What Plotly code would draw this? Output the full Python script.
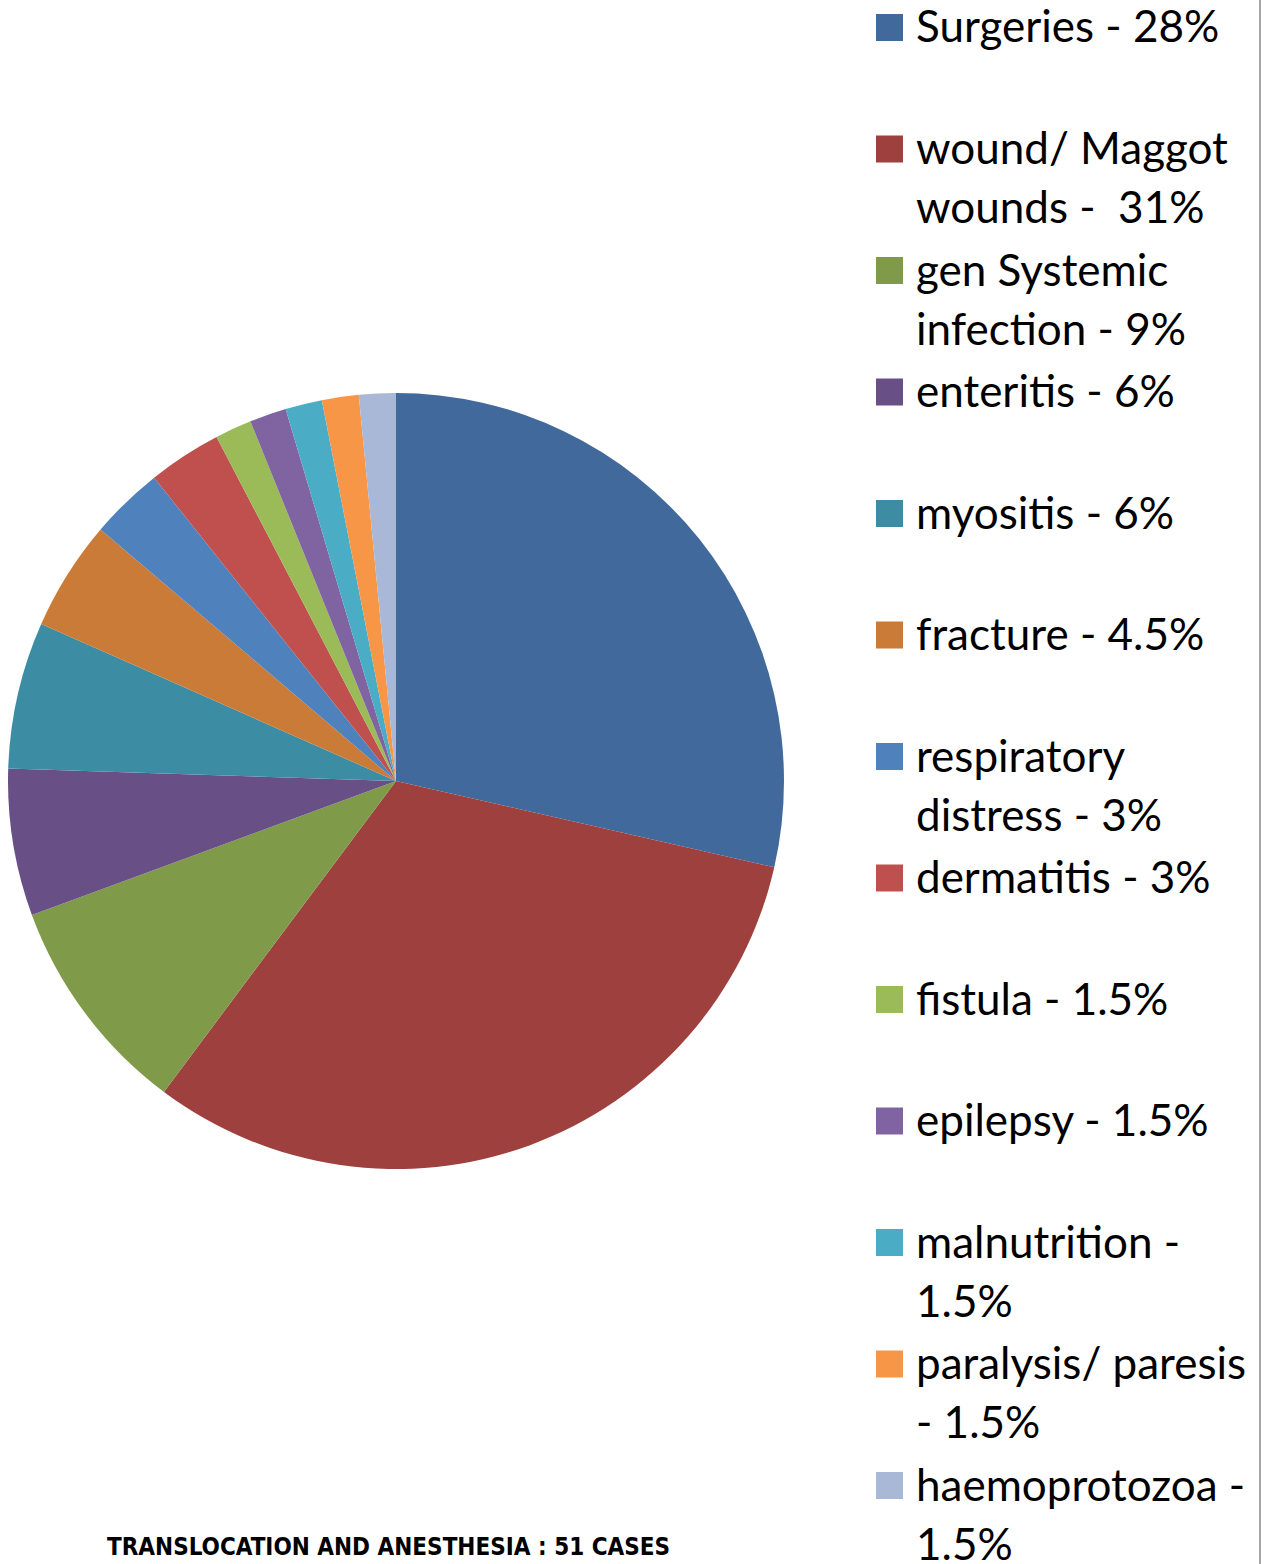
import plotly.graph_objects as go

W, H = 1269, 1564

categories = ["Surgeries", "wound/ Maggot wounds", "gen Systemic infection", "enteritis",
              "myositis", "fracture", "respiratory distress", "dermatitis", "fistula",
              "epilepsy", "malnutrition", "paralysis/ paresis", "haemoprotozoa"]
values = [28, 31, 9, 6, 6, 4.5, 3, 3, 1.5, 1.5, 1.5, 1.5, 1.5]
legend_lines = [
    ["Surgeries - 28%"],
    ["wound/ Maggot", "wounds -\u00a0 31%"],
    ["gen Systemic", "infection - 9%"],
    ["enteritis - 6%"],
    ["myositis - 6%"],
    ["fracture - 4.5%"],
    ["respiratory", "distress - 3%"],
    ["dermatitis - 3%"],
    ["fistula - 1.5%"],
    ["epilepsy - 1.5%"],
    ["malnutrition -", "1.5%"],
    ["paralysis/ paresis", "- 1.5%"],
    ["haemoprotozoa -", "1.5%"],
]
colors = ["#41699B", "#9E413E", "#7F9A48", "#684F86", "#3C8DA3", "#CB7B38", "#4F81BD",
          "#C0504D", "#9BBB59", "#8064A2", "#4BACC6", "#F79646", "#A9B8D6"]
title_text = "TRANSLOCATION AND ANESTHESIA : 51 CASES"

# pie geometry (pixels)
cx, cy, r = 396, 781, 388

fig = go.Figure(go.Pie(
    labels=categories, values=values, sort=False, direction="clockwise", rotation=0,
    marker=dict(colors=colors, line=dict(width=0)),
    textinfo="none", showlegend=False,
    domain=dict(x=[(cx - r) / W, (cx + r) / W], y=[1 - (cy + r) / H, 1 - (cy - r) / H]),
))

def px(x):
    return x / W

def py(y):
    return 1 - y / H

shapes = []
annotations = []
first_center, step = 27.5, 121.5
box = 27
font_leg = dict(family="Lato", size=44, color="#000000")
for i, (lines, col) in enumerate(zip(legend_lines, colors)):
    c = first_center + i * step
    shapes.append(dict(type="rect", xref="paper", yref="paper",
                       x0=px(876), x1=px(876 + box), y0=py(c + box / 2), y1=py(c - box / 2),
                       fillcolor=col, line=dict(width=0)))
    for j, t in enumerate(lines):
        annotations.append(dict(text=t, xref="paper", yref="paper", x=px(914),
                                y=py(c - 2 + j * 59), xanchor="left", yanchor="middle",
                                showarrow=False, font=font_leg))

shapes.append(dict(type="line", xref="paper", yref="paper", x0=px(1260), x1=px(1260),
                   y0=0, y1=1, line=dict(color="#A6A6A6", width=2)))

annotations.append(dict(text="<b>" + title_text + "</b>", xref="paper", yref="paper",
                        x=px(388), y=py(1547), xanchor="center", yanchor="middle",
                        showarrow=False,
                        font=dict(family="DejaVu Sans Condensed, Liberation Sans",
                                  size=24, color="#000000")))

fig.update_layout(width=W, height=H, margin=dict(l=0, r=0, t=0, b=0),
                  paper_bgcolor="white", plot_bgcolor="white",
                  shapes=shapes, annotations=annotations)

fig.write_html("out.html")
